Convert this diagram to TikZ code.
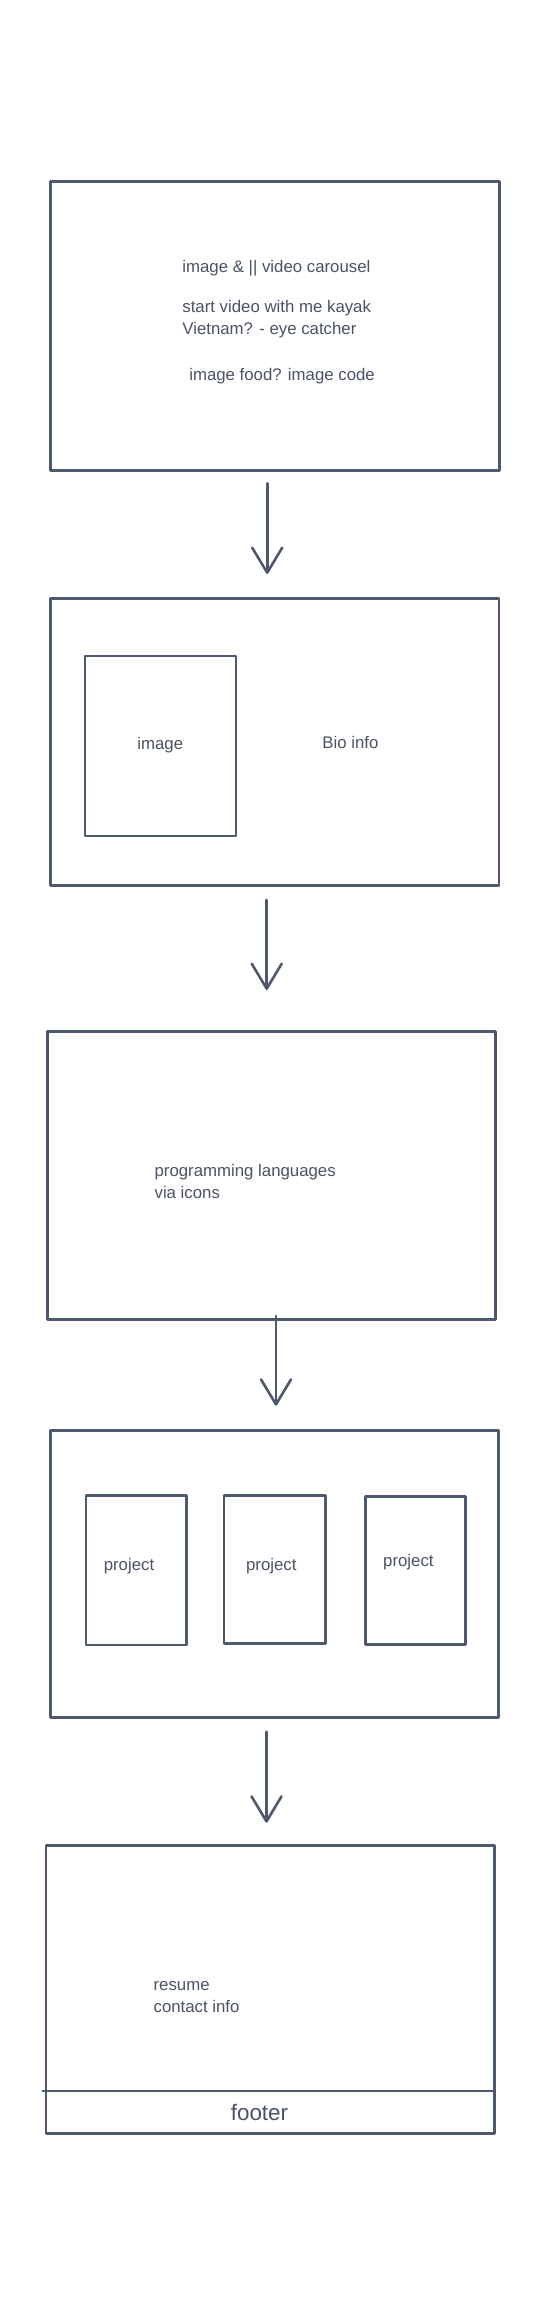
\documentclass[tikz,border=0pt]{standalone}
\usepackage{fontspec}
\setmainfont{Liberation Sans}
\usetikzlibrary{arrows.meta}
\definecolor{ink}{HTML}{4F596D}
\definecolor{txt}{HTML}{4A5366}
\tikzset{
  box/.style={draw=ink, line width=2.6pt, inner sep=0pt, outer sep=0pt, line join=round},
  lbl/.style={text=txt, font=\fontsize{16.8pt}{21pt}\selectfont, inner sep=0pt},
  big/.style={text=txt, font=\fontsize{22.4pt}{26pt}\selectfont, inner sep=0pt},
  arr/.style={draw=ink, line width=2.6pt, line cap=round, -{Straight Barb[length=25pt, width=30pt, line width=2.6pt, round]}},
  rule/.style={draw=ink, line width=2.6pt, line cap=round}
}
\begin{document}
\begin{tikzpicture}[x=1pt, y=-1pt]
\fill[white] (0,0) rectangle (544,2315);
\useasboundingbox (0,0) rectangle (544,2315);

% Box 1
\node[box, minimum width=449.4pt, minimum height=289pt] (b1) at (275,326.2) {};
\node[lbl, anchor=base west] (t1a) at (182.2,272.7) {image \& || video carousel};
\node[lbl, anchor=base west] (t1b) at (182.2,312.3) {start video with me kayak};
\node[lbl, anchor=base west] (t1c) at (182.2,334.3) {Vietnam? - eye catcher};
\node[lbl, anchor=base west] (t1d) at (189.1,380) {image food? image code};

% Box 2
\node[box, minimum width=448.7pt, minimum height=287.4pt] (b2) at (274.65,742) {};
\node[box, minimum width=151pt, minimum height=180pt] (img) at (160.5,746) {};
\node[lbl, anchor=base] (t2a) at (160.3,749) {image};
\node[lbl, anchor=base] (t2b) at (350.5,748.3) {Bio info};

% Box 3
\node[box, minimum width=448pt, minimum height=287.6pt] (b3) at (271.5,1175.5) {};
\node[lbl, anchor=base west] (t3a) at (154.4,1176) {programming languages};
\node[lbl, anchor=base west] (t3b) at (154.4,1198.3) {via icons};

% Box 4
\node[box, minimum width=448.3pt, minimum height=287pt] (b4) at (274.45,1574.2) {};
\node[box, minimum width=100.3pt, minimum height=149.3pt] (p1) at (136.15,1570.35) {};
\node[box, minimum width=101.7pt, minimum height=147.6pt] (p2) at (274.65,1569.5) {};
\node[box, minimum width=100.3pt, minimum height=147.6pt] (p3) at (415.55,1570.5) {};
\node[lbl, anchor=base] (t4a) at (129,1570) {project};
\node[lbl, anchor=base] (t4b) at (271.3,1570) {project};
\node[lbl, anchor=base] (t4c) at (408.4,1566.7) {project};

% Box 5
\node[box, minimum width=448.3pt, minimum height=287.6pt] (b5) at (270.25,1989.5) {};
\coordinate (fl) at (42.7,2091);
\draw[rule] (fl) -- (fl -| b5.east);
\node[lbl, anchor=base west] (t5a) at (153.4,1990) {resume};
\node[lbl, anchor=base west] (t5b) at (153.4,2012) {contact info};
\node[big, anchor=base] (t5c) at (259.5,2120.7) {footer};

% Arrows
\coordinate (a1s) at (267.2,483.3);
\coordinate (a1e) at (267.2,574);
\draw[arr] (a1s) -- (a1e);
\coordinate (a2s) at (266.7,900);
\coordinate (a2e) at (266.7,990);
\draw[arr] (a2s) -- (a2e);
\coordinate (a3s) at (276,1316);
\coordinate (a3e) at (276,1405.7);
\draw[arr] (a3s) -- (a3e);
\coordinate (a4s) at (266.5,1731.7);
\coordinate (a4e) at (266.5,1822.7);
\draw[arr] (a4s) -- (a4e);
\end{tikzpicture}
\end{document}
